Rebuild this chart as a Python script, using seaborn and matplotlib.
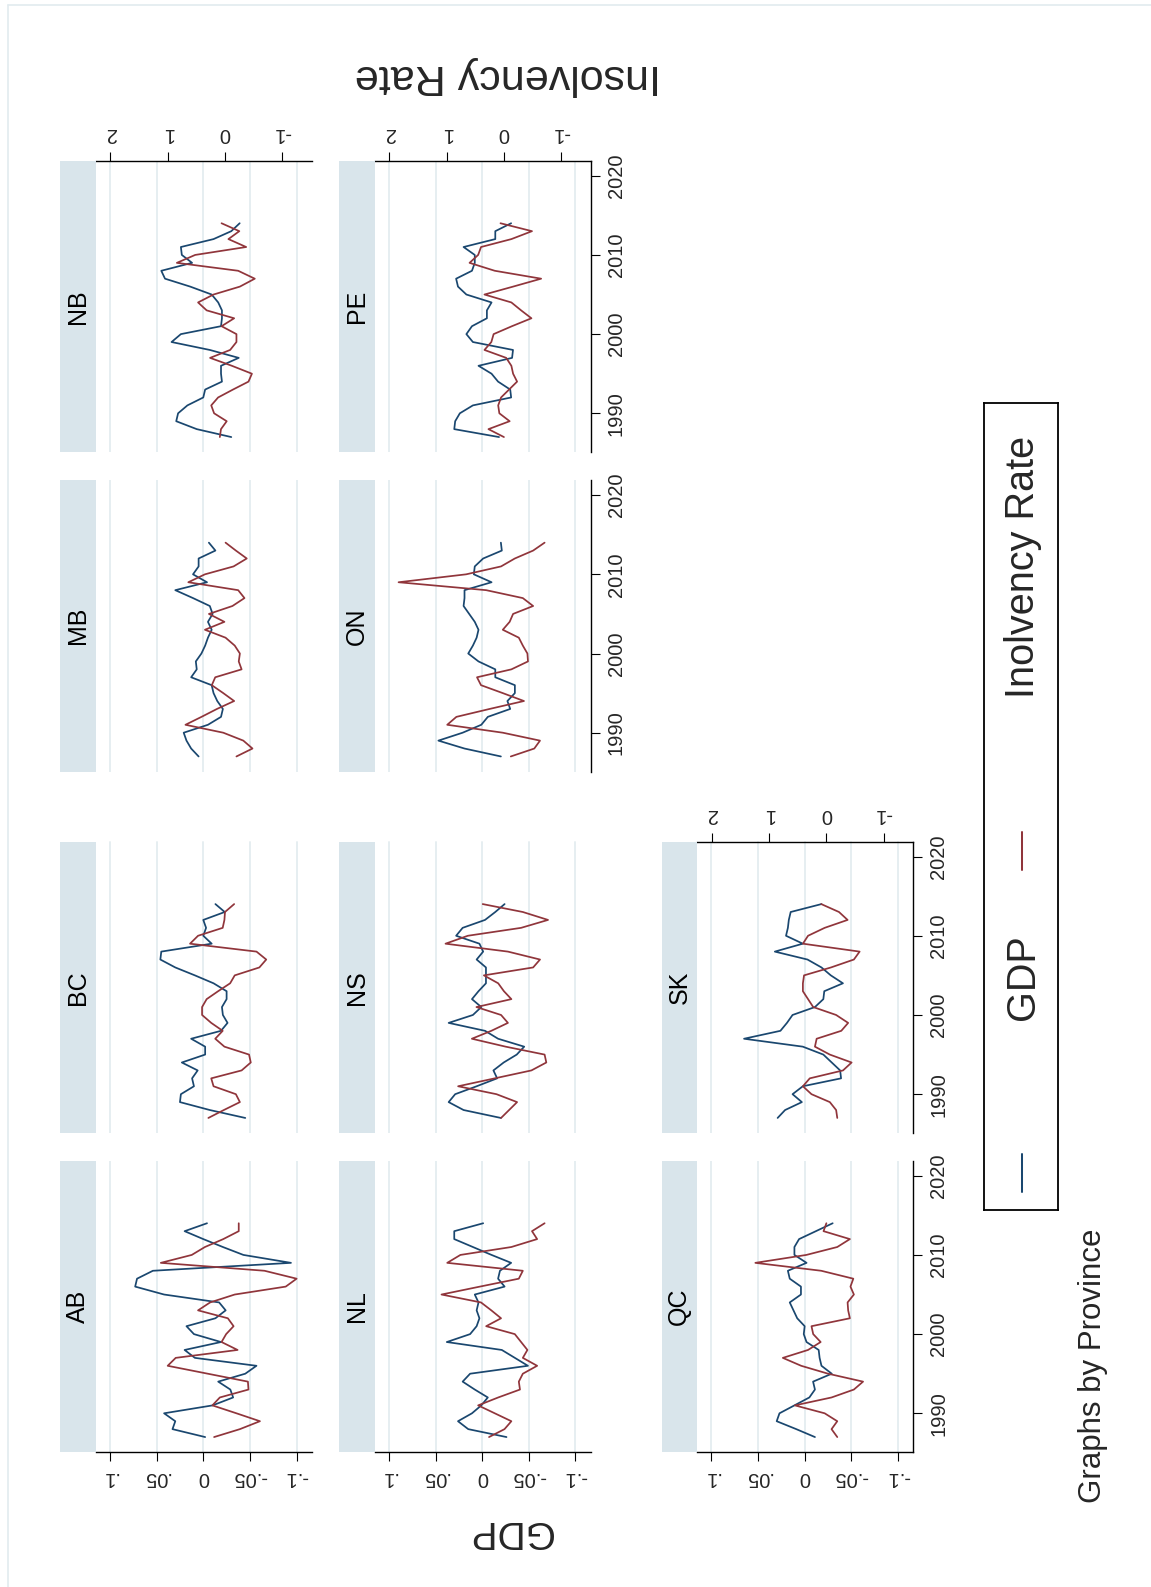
import matplotlib
matplotlib.use("Agg")
import matplotlib.pyplot as plt
from matplotlib.patches import Rectangle
from matplotlib.lines import Line2D
import numpy as np
import pandas as pd
import seaborn as sns

sns.set_theme(style="white")
plt.rcParams["font.family"] = ["Liberation Sans", "DejaVu Sans"]

# ---------------------------------------------------------------- data
years = list(range(1987, 2015))

AB_gdp = [-0.002, 0.033, 0.030, 0.042, -0.010, -0.032, -0.029, -0.016, -0.045, -0.057, 0.009, 0.020, -0.019, 0.010,
          0.018, -0.013, -0.024, -0.017, 0.042, 0.073, 0.071, 0.054, -0.094, -0.043, -0.021, 0.000, 0.020, -0.004]
AB_ins = [0.19, -0.26, -0.61, -0.20, 0.22, 0.09, -0.41, -0.40, 0.30, 1.00, 0.86, -0.22, 0.06, -0.02,
          -0.15, -0.05, 0.47, 0.26, -0.17, -1.06, -1.25, -0.69, 1.12, 0.58, 0.35, 0.03, -0.24, -0.24]

BC_gdp = [-0.045, -0.007, 0.025, 0.024, 0.010, 0.012, 0.006, 0.023, -0.002, -0.002, 0.013, -0.019, -0.026, -0.021,
          -0.020, -0.025, -0.025, -0.011, 0.009, 0.030, 0.046, 0.045, -0.009, 0.000, -0.003, 0.000, -0.023, -0.013]
BC_ins = [0.29, 0.02, -0.26, -0.19, 0.20, 0.24, -0.29, -0.45, -0.42, 0.01, 0.17, 0.04, 0.24, 0.40,
          0.40, 0.32, 0.12, -0.09, -0.17, -0.60, -0.72, -0.55, 0.61, 0.47, 0.04, 0.01, 0.00, -0.16]

MB_gdp = [0.005, 0.013, 0.018, 0.021, -0.005, -0.019, -0.021, -0.015, -0.011, -0.009, 0.013, 0.007, 0.008, 0.002,
          -0.002, -0.005, -0.009, -0.005, -0.010, -0.007, 0.011, 0.030, -0.004, 0.011, 0.005, 0.005, -0.013, -0.006]
MB_ins = [-0.20, -0.48, -0.32, 0.03, 0.69, 0.41, 0.14, -0.16, 0.03, 0.23, 0.17, -0.29, -0.24, -0.26,
          -0.17, -0.01, 0.35, 0.01, 0.28, -0.13, -0.34, -0.23, 0.64, 0.35, -0.15, -0.38, -0.19, -0.01]

NB_gdp = [-0.030, 0.007, 0.029, 0.027, 0.017, 0.000, -0.002, -0.020, -0.019, -0.019, -0.038, -0.007, 0.034, 0.024,
          -0.019, -0.020, -0.020, -0.016, -0.009, 0.014, 0.041, 0.045, 0.012, 0.023, 0.024, -0.011, -0.030, -0.039]
NB_ins = [0.09, 0.07, -0.03, 0.19, 0.24, 0.12, -0.14, -0.41, -0.47, -0.12, 0.26, -0.09, -0.20, -0.20,
          0.06, -0.16, 0.32, 0.47, 0.20, -0.26, -0.52, -0.23, 0.84, 0.52, -0.37, -0.06, -0.25, 0.06]

NL_gdp = [-0.026, 0.015, 0.026, 0.011, 0.001, -0.006, 0.008, 0.021, 0.013, -0.049, -0.035, -0.021, 0.038, 0.013,
          0.006, 0.003, 0.006, 0.004, 0.008, -0.024, -0.017, -0.019, -0.031, -0.010, 0.010, 0.030, 0.030, -0.001]
NL_ins = [0.26, -0.01, -0.13, 0.16, 0.45, 0.10, -0.28, -0.26, -0.33, -0.58, -0.33, -0.41, -0.30, -0.19,
          0.31, 0.05, 0.22, 0.40, 1.09, 0.42, -0.26, -0.33, 0.99, 0.76, -0.13, -0.58, -0.49, -0.71]

NS_gdp = [-0.020, 0.020, 0.036, 0.029, 0.006, -0.016, -0.012, -0.023, -0.037, -0.045, -0.017, -0.003, 0.036, 0.010,
          0.001, 0.011, 0.004, -0.004, -0.004, -0.004, 0.006, -0.001, 0.003, 0.028, 0.021, -0.003, -0.014, -0.024]
NS_ins = [0.05, -0.09, -0.23, 0.13, 0.80, 0.16, -0.48, -0.74, -0.71, -0.03, 0.56, 0.22, -0.07, 0.05,
          0.48, -0.13, 0.00, 0.10, 0.35, -0.51, -0.63, -0.07, 1.02, 0.63, -0.30, -0.77, -0.33, 0.37]

ON_gdp = [-0.020, 0.019, 0.047, 0.021, 0.001, -0.006, -0.030, -0.027, -0.035, -0.035, -0.014, -0.014, 0.004, 0.015,
          0.010, 0.006, 0.004, 0.008, 0.014, 0.020, 0.019, 0.019, -0.010, 0.009, 0.008, -0.001, -0.021, -0.020]
ON_ins = [-0.12, -0.53, -0.63, 0.02, 0.99, 0.83, 0.25, -0.35, 0.02, 0.40, 0.47, -0.13, -0.42, -0.41,
          -0.33, -0.26, 0.02, -0.10, -0.16, -0.51, -0.33, 0.31, 1.84, 0.66, 0.05, -0.19, -0.51, -0.71]

PE_gdp = [-0.018, 0.030, 0.029, 0.024, 0.010, -0.031, -0.030, -0.017, -0.010, 0.004, -0.032, -0.033, 0.010, 0.017,
          0.011, -0.005, -0.005, -0.010, 0.017, 0.026, 0.028, 0.011, 0.008, 0.008, 0.020, -0.014, -0.014, -0.031]
PE_ins = [0.00, 0.27, -0.10, 0.08, 0.10, 0.05, -0.09, -0.23, -0.16, -0.13, -0.04, 0.34, 0.22, 0.18,
          -0.14, -0.48, -0.30, -0.13, 0.34, -0.16, -0.65, 0.16, 0.60, 0.45, 0.40, -0.13, -0.49, 0.06]

QC_gdp = [-0.011, 0.009, 0.030, 0.027, 0.011, -0.005, -0.011, -0.009, -0.029, -0.018, -0.016, -0.015, -0.002, 0.001,
          0.000, 0.008, 0.012, 0.016, 0.004, 0.004, 0.016, 0.018, -0.002, 0.011, 0.011, 0.006, -0.012, -0.030]
QC_ins = [-0.19, -0.09, -0.19, 0.03, 0.55, -0.09, -0.48, -0.64, -0.03, 0.44, 0.76, 0.32, 0.10, 0.23,
          0.26, -0.41, -0.38, -0.37, -0.48, -0.42, -0.47, 0.09, 1.24, 0.35, -0.19, -0.41, 0.05, 0.00]

SK_gdp = [0.029, 0.021, 0.003, 0.013, 0.002, -0.039, -0.038, -0.029, -0.020, 0.002, 0.065, 0.026, 0.019, 0.013,
          -0.011, -0.020, -0.021, -0.041, -0.028, -0.018, -0.003, 0.032, 0.002, 0.020, 0.018, 0.017, 0.015, -0.018]
SK_ins = [-0.19, -0.17, -0.06, 0.26, 0.41, 0.29, -0.29, -0.44, -0.06, 0.20, 0.17, -0.26, -0.38, -0.17,
          0.23, 0.32, 0.41, 0.41, 0.39, -0.08, -0.48, -0.58, 0.41, 0.32, 0.03, -0.37, -0.22, 0.09]

provinces = ["AB", "BC", "MB", "NB", "NL", "NS", "ON", "PE", "QC", "SK"]
series = {
    "AB": (AB_gdp, AB_ins), "BC": (BC_gdp, BC_ins), "MB": (MB_gdp, MB_ins), "NB": (NB_gdp, NB_ins),
    "NL": (NL_gdp, NL_ins), "NS": (NS_gdp, NS_ins), "ON": (ON_gdp, ON_ins), "PE": (PE_gdp, PE_ins),
    "QC": (QC_gdp, QC_ins), "SK": (SK_gdp, SK_ins),
}

gdp_ticks = [-0.1, -0.05, 0.0, 0.05, 0.1]
gdp_tick_labels = ["-.1", "-.05", "0", ".05", ".1"]
ins_ticks = [-1, 0, 1, 2]
ins_tick_labels = ["-1", "0", "1", "2"]
year_ticks = [1990, 2000, 2010, 2020]

df = pd.concat(
    [pd.DataFrame({"Province": p, "year": years, "gdp": series[p][0], "ins": series[p][1]}) for p in provinces],
    ignore_index=True,
)

# ---------------------------------------------------------------- style
BLUE = "#1a476f"
RED = "#90353b"
STRIP = "#d9e5eb"
GRID = "#e6eef1"
LW = 1.25

W, H = 1151, 1587
fig = plt.figure(figsize=(W / 100, H / 100), dpi=100)
fig.patch.set_facecolor("white")


def rect(x0, x1, y0, y1):
    """Pixel box (top-left origin) -> figure fraction rect."""
    return [x0 / W, 1 - y1 / H, (x1 - x0) / W, (y1 - y0) / H]


# the graph is laid out sideways: GDP runs right-to-left, years bottom-to-top
col_x = {"A": (95.6, 311.8), "B": (374.6, 590.7), "C": (697.0, 913.2)}
row_y = {1: (1160.7, 1452.1), 2: (841.5, 1133.0), 3: (480.1, 771.5), 4: (160.7, 452.1)}
place = {"AB": ("A", 1), "BC": ("A", 2), "MB": ("A", 3), "NB": ("A", 4),
         "NL": ("B", 1), "NS": ("B", 2), "ON": ("B", 3), "PE": ("B", 4),
         "QC": ("C", 1), "SK": ("C", 2)}
with_gdp_axis = {"AB", "NL", "QC"}
with_ins_axis = {"NB", "PE", "SK"}
with_year_axis = {"QC", "SK", "ON", "PE"}

GDP_LIM = (0.1154, -0.1163)
INS_LIM = (2.258, -1.515)
YEAR_LIM = (1985.1, 2021.9)
STRIP_W = 35.3
TICK_FS = 14.5

for p in provinces:
    cx, ry = place[p]
    x0, x1 = col_x[cx]
    y0, y1 = row_y[ry]
    d = df[df["Province"] == p]

    ax = fig.add_axes(rect(x0, x1, y0, y1))
    ax.set_facecolor("white")
    ax2 = ax.twiny()

    sns.lineplot(data=d, x="gdp", y="year", orient="y", ax=ax, color=BLUE, lw=LW,
                 errorbar=None, legend=False)
    sns.lineplot(data=d, x="ins", y="year", orient="y", ax=ax2, color=RED, lw=LW,
                 errorbar=None, legend=False)

    ax.set_xlim(*GDP_LIM)
    ax2.set_xlim(*INS_LIM)
    ax.set_ylim(*YEAR_LIM)
    for a in (ax, ax2):
        a.set_xlabel("")
        a.set_ylabel("")
        for s in a.spines.values():
            s.set_visible(False)

    ax.set_xticks(gdp_ticks)
    ax.xaxis.grid(True, color=GRID, lw=1.4)
    ax.yaxis.grid(False)
    ax.set_axisbelow(True)

    if p in with_gdp_axis:
        ax.spines["bottom"].set_visible(True)
        ax.spines["bottom"].set_color("black")
        ax.spines["bottom"].set_linewidth(1.0)
        ax.set_xticklabels(gdp_tick_labels)
        ax.tick_params(axis="x", bottom=True, labelbottom=True, length=6.5, width=0.8,
                       direction="out", color="black", labelsize=TICK_FS, labelrotation=180, pad=5)
    else:
        ax.tick_params(axis="x", bottom=False, labelbottom=False, top=False, labeltop=False)

    ax.set_yticks(year_ticks)
    if p in with_year_axis:
        ax.yaxis.tick_right()
        ax.spines["right"].set_visible(True)
        ax.spines["right"].set_color("black")
        ax.spines["right"].set_linewidth(1.0)
        ax.tick_params(axis="y", right=True, labelright=True, left=False, labelleft=False,
                       length=6.5, width=0.8, direction="out", color="black",
                       labelsize=TICK_FS, labelrotation=90, pad=5)
        for lab in ax.get_yticklabels():
            lab.set_va("center")
    else:
        ax.tick_params(axis="y", left=False, right=False, labelleft=False, labelright=False)

    ax2.set_xticks(ins_ticks)
    if p in with_ins_axis:
        ax2.spines["top"].set_visible(True)
        ax2.spines["top"].set_color("black")
        ax2.spines["top"].set_linewidth(1.0)
        ax2.set_xticklabels(ins_tick_labels)
        ax2.tick_params(axis="x", top=True, labeltop=True, bottom=False, labelbottom=False,
                        length=6.5, width=0.8, direction="out", color="black",
                        labelsize=TICK_FS, labelrotation=180, pad=6)
    else:
        ax2.tick_params(axis="x", top=False, labeltop=False, bottom=False, labelbottom=False)
    ax2.xaxis.grid(False)

    # facet strip
    fig.add_artist(Rectangle(((x0 - STRIP_W) / W, 1 - y1 / H), STRIP_W / W, (y1 - y0) / H,
                             transform=fig.transFigure, facecolor=STRIP, edgecolor="none"))
    fig.text((x0 - STRIP_W / 2) / W, 1 - (y0 + y1) / 2 / H, p, rotation=90,
             ha="center", va="center", fontsize=18, color="black")

# axis titles
fig.text(510 / W, 1 - 1531 / H, "GDP", rotation=180, ha="center", va="center", fontsize=28)
fig.text(508 / W, 1 - 76 / H, "Insolvency Rate", rotation=180, ha="center", va="center", fontsize=31)

# legend box
lax = fig.add_axes(rect(984, 1058, 403, 1210))
lax.set_xlim(0, 1)
lax.set_ylim(0, 1)
lax.set_xticks([])
lax.set_yticks([])
lax.set_facecolor("white")
for s in lax.spines.values():
    s.set_visible(True)
    s.set_color("black")
    s.set_linewidth(1.3)
lax.add_line(Line2D([0.51, 0.51], [0.022, 0.069], color=BLUE, lw=LW + 0.2))
lax.add_line(Line2D([0.51, 0.51], [0.421, 0.468], color=RED, lw=LW + 0.2))
lax.text(0.53, 0.289, "GDP", rotation=90, ha="center", va="center", fontsize=28.5)
lax.text(0.53, 0.797, "Inolvency Rate", rotation=90, ha="center", va="center", fontsize=28.5)

# note
fig.text(1093 / W, 1 - 1503 / H, "Graphs by Province", rotation=90, ha="center", va="bottom", fontsize=22.5)

# outer frame edges
fig.add_artist(Line2D([8 / W, 8 / W], [0, 1 - 5 / H], transform=fig.transFigure, color="#e2ebef", lw=1.2))
fig.add_artist(Line2D([8 / W, 1], [1 - 5 / H, 1 - 5 / H], transform=fig.transFigure, color="#e2ebef", lw=1.2))

fig.savefig("out.png", dpi=100, facecolor="white")
